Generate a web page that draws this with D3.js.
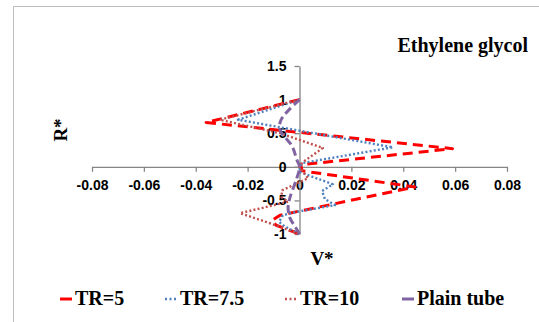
<!DOCTYPE html>
<html>
<head>
<meta charset="utf-8">
<script src="https://cdn.jsdelivr.net/npm/d3@7/dist/d3.min.js"></script>
<style>
  html, body { margin: 0; padding: 0; background: #ffffff; }
  svg { display: block; }
</style>
</head>
<body>
<svg id="chart" width="539" height="322"></svg>
<script>
// ---- Data (V*, R*) ----
const seriesNames = ["TR=5", "TR=7.5", "TR=10", "Plain tube"];

const tr5 = [
  [0, 1], [-0.036, 0.66], [0.059, 0.27], [0.0005, 0.03],
  [0.001, -0.06], [0.0445, -0.30], [-0.0075, -0.72], [-0.0106, -0.80],
  [-0.009, -0.87], [0, -1]
];
const tr75 = [
  [0, 1], [-0.0237, 0.70], [0.036, 0.29], [0.0013, 0.057], [0, 0],
  [0.0002, -0.08], [0.0129, -0.26], [0.0087, -0.36], [0.0098, -0.48],
  [0.0137, -0.57], [-0.001, -0.67], [-0.0064, -0.72], [-0.0079, -0.82],
  [-0.0056, -0.89], [0, -1]
];
const tr10 = [
  [0, 1], [-0.0307, 0.70], [-0.0075, 0.50], [0.009, 0.28], [0.0013, 0.07], [0, 0],
  [0.0033, -0.17], [-0.0067, -0.35], [-0.007, -0.45], [-0.0044, -0.52],
  [-0.0229, -0.69], [-0.0114, -0.84], [0, -1]
];
const plain = [
  [0, 1], [-0.0071, 0.70], [-0.0075, 0.55], [-0.0029, 0.31], [-0.001, 0.10], [0, 0],
  [-0.0013, -0.20], [-0.0037, -0.46], [-0.0044, -0.61], [-0.0037, -0.76],
  [-0.0017, -0.89], [0, -1]
];

const xTicks = [-0.08, -0.06, -0.04, -0.02, 0, 0.02, 0.04, 0.06, 0.08];
const yTicks = [-1, -0.5, 0, 0.5, 1, 1.5];
const titleText = "Ethylene glycol";
const xTitle = "V*";
const yTitle = "R*";

// ---- Drawing ----
const svg = d3.select("#chart");

// outer frame (partial, top + left)
svg.append("path")
  .attr("d", "M13.5,322 L13.5,6.5 L539,6.5")
  .attr("fill", "none").attr("stroke", "#bdbdbd").attr("stroke-width", 1);

const x = d3.scaleLinear().domain([-0.08, 0.08]).range([92, 507]);
const y = d3.scaleLinear().domain([-1, 1.5]).range([234, 66]);

const axisColor = "#868686";
const tickFont = "bold 14px 'Liberation Sans', Arial, sans-serif";

const fmtX = v => v === 0 ? "0" : d3.format(".2f")(v).replace("−", "-");
const fmtY = v => String(v);

const gx = svg.append("g")
  .attr("transform", `translate(0,${y(0)})`)
  .call(d3.axisBottom(x).tickValues(xTicks).tickFormat(fmtX).tickSize(5).tickPadding(8).tickSizeOuter(0));
const gy = svg.append("g")
  .attr("transform", `translate(${x(0)},0)`)
  .call(d3.axisLeft(y).tickValues(yTicks).tickFormat(fmtY).tickSize(5).tickPadding(8).tickSizeOuter(0));

[gx, gy].forEach(g => {
  g.select(".domain").attr("stroke", axisColor).attr("stroke-width", 1.3);
  g.selectAll(".tick line").attr("stroke", axisColor).attr("stroke-width", 1.3);
  g.selectAll(".tick text").style("font", tickFont).attr("fill", "#000");
});

// series
const series = [
  { name: seriesNames[0], data: tr5,  color: "#FF0000", width: 3,   dash: "10,6",  cap: "butt",  curve: d3.curveLinear },
  { name: seriesNames[1], data: tr75, color: "#4F81BD", width: 2.4, dash: "2,2.2", cap: "butt",  curve: d3.curveLinear },
  { name: seriesNames[2], data: tr10, color: "#C0504D", width: 2.4, dash: "2,2.2", cap: "butt",  curve: d3.curveLinear },
  { name: seriesNames[3], data: plain, color: "#8064A2", width: 3,  dash: "8,4",   cap: "butt",  curve: d3.curveCatmullRom.alpha(0.5) }
];

series.forEach(s => {
  const line = d3.line().x(d => x(d[0])).y(d => y(d[1])).curve(s.curve);
  svg.append("path")
    .datum(s.data)
    .attr("d", line)
    .attr("fill", "none")
    .attr("stroke", s.color)
    .attr("stroke-width", s.width)
    .attr("stroke-dasharray", s.dash)
    .attr("stroke-linecap", s.cap)
    .attr("stroke-linejoin", "round");
});

const serif = "'Liberation Serif', 'Times New Roman', serif";

// title
svg.append("text")
  .attr("x", 528).attr("y", 52)
  .attr("text-anchor", "end")
  .style("font-family", serif).style("font-weight", "bold").style("font-size", "20px")
  .text(titleText);

// axis titles
svg.append("text")
  .attr("x", 322).attr("y", 265)
  .attr("text-anchor", "middle")
  .style("font-family", serif).style("font-weight", "bold").style("font-size", "19px")
  .text(xTitle);
svg.append("text")
  .attr("transform", "translate(67,130) rotate(-90)")
  .attr("text-anchor", "middle")
  .style("font-family", serif).style("font-weight", "bold").style("font-size", "19px")
  .text(yTitle);

// legend
const legendX = [60, 165, 285, 402];
const legendY = 299;
series.forEach((s, i) => {
  const g = svg.append("g").attr("transform", `translate(${legendX[i]},${legendY})`);
  g.append("line")
    .attr("x1", 0).attr("x2", 12).attr("y1", 0).attr("y2", 0)
    .attr("stroke", s.color)
    .attr("stroke-width", s.width)
    .attr("stroke-dasharray", i === 0 ? null : (i === 3 ? null : "2,2.5"));
  g.append("text")
    .attr("x", 15).attr("y", 6)
    .style("font-family", serif).style("font-weight", "bold").style("font-size", "20px")
    .text(s.name);
});
</script>
</body>
</html>
